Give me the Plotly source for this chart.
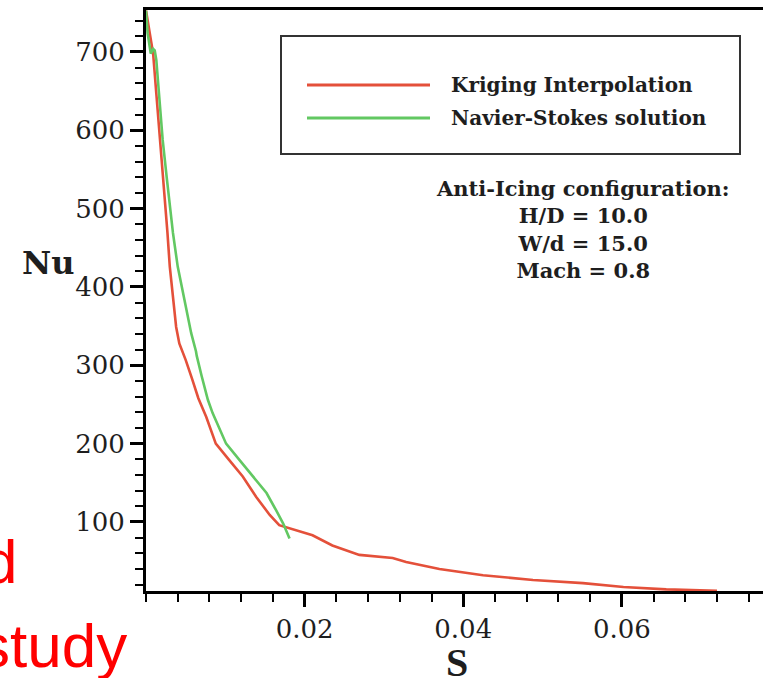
import plotly.graph_objects as go

# ---- data ----
kriging_s = [0, 0.0004, 0.0009, 0.0013, 0.0017, 0.0021, 0.0024, 0.0027, 0.0030, 0.0034,
             0.0038, 0.0042, 0.0050, 0.0058, 0.0063, 0.0066, 0.0076, 0.0088, 0.0105, 0.0122,
             0.0139, 0.0156, 0.0168, 0.0181, 0.0210, 0.0235, 0.0269, 0.0311, 0.0328, 0.0370,
             0.0425, 0.0488, 0.0551, 0.0602, 0.0656, 0.0720]
kriging_nu = [753, 728, 698, 647, 596, 554, 511, 470, 426, 383,
              349, 328, 307, 283, 266, 258, 234, 200, 179, 158,
              132, 109, 96, 92, 83, 70, 58, 54, 49, 40,
              32, 26, 22, 17, 14, 12]

ns_s = [0, 0.0002, 0.0006, 0.0009, 0.0011, 0.0013, 0.0017, 0.0021, 0.0026, 0.0029,
        0.0034, 0.0040, 0.0049, 0.0057, 0.0063, 0.0064, 0.0070, 0.0078, 0.0084, 0.0101,
        0.0118, 0.0135, 0.0152, 0.0164, 0.0173, 0.0181]
ns_nu = [753, 724, 698, 704, 702, 690, 639, 588, 541, 511,
         469, 426, 383, 341, 318, 312, 287, 256, 239, 200,
         179, 158, 137, 115, 98, 79]

series_names = ["Kriging Interpolation", "Navier-Stokes solution"]
x_tick_vals = [0.02, 0.04, 0.06]
x_tick_labels = ["0.02", "0.04", "0.06"]
y_tick_vals = [100, 200, 300, 400, 500, 600, 700]
y_tick_labels = ["100", "200", "300", "400", "500", "600", "700"]
config_lines = ["Anti-Icing configuration:", "H/D = 10.0", "W/d = 15.0", "Mach = 0.8"]

RED = "#e4503a"
GREEN = "#62c862"

W, H = 763, 678
ML, MR, MT, MB = 146, 0, 10, 87
PW, PH = W - ML - MR, H - MT - MB


def px2x(px):
    return (px - ML) / PW


def px2y(py):
    return (H - MB - py) / PH


fig = go.Figure()
fig.add_trace(go.Scatter(x=kriging_s, y=kriging_nu, mode="lines", name=series_names[0],
                         line=dict(color=RED, width=2.6)))
fig.add_trace(go.Scatter(x=ns_s, y=ns_nu, mode="lines", name=series_names[1],
                         line=dict(color=GREEN, width=2.6)))

tickfont = dict(family="DejaVu Serif", size=26, color="#1e1e1e")

fig.update_layout(
    width=W, height=H,
    margin=dict(l=ML, r=MR, t=MT, b=MB, autoexpand=False),
    paper_bgcolor="white", plot_bgcolor="white",
    showlegend=False,
    xaxis=dict(
        range=[0, 0.0778], tickvals=x_tick_vals, ticktext=x_tick_labels,
        ticks="outside", ticklen=13, tickwidth=2.5, tickcolor="black",
        showline=True, linewidth=3, linecolor="black", mirror=True,
        showgrid=False, zeroline=False, tickfont=tickfont, automargin=False,
        minor=dict(dtick=0.004, tick0=0, ticks="outside", ticklen=8, tickwidth=2,
                   tickcolor="black", showgrid=False),
    ),
    yaxis=dict(
        range=[11.9, 753.6], tickvals=y_tick_vals, ticktext=y_tick_labels,
        ticks="outside", ticklen=13, tickwidth=2.5, tickcolor="black",
        showline=True, linewidth=3, linecolor="black", mirror=False,
        showgrid=False, zeroline=False, tickfont=tickfont, automargin=False,
        minor=dict(dtick=20, tick0=0, ticks="outside", ticklen=8, tickwidth=2,
                   tickcolor="black", showgrid=False),
    ),
)

# manual legend box
fig.add_shape(type="rect", xref="paper", yref="paper",
              x0=px2x(281), x1=px2x(740), y0=px2y(154), y1=px2y(36),
              line=dict(color="#333333", width=2), fillcolor="rgba(0,0,0,0)")
for i, (name, col) in enumerate(zip(series_names, [RED, GREEN])):
    yy = 85 + i * 33
    fig.add_shape(type="line", xref="paper", yref="paper",
                  x0=px2x(307), x1=px2x(430), y0=px2y(yy), y1=px2y(yy),
                  line=dict(color=col, width=3))
    fig.add_annotation(xref="paper", yref="paper", x=px2x(449), y=px2y(yy),
                       text="<b>%s</b>" % name, showarrow=False,
                       xanchor="left", yanchor="middle",
                       font=dict(family="DejaVu Serif", size=20, color="#1e1e1e"))

# configuration text
fig.add_annotation(xref="paper", yref="paper", x=px2x(582), y=px2y(229),
                   text="<b>" + "<br>".join(config_lines) + "</b>", showarrow=False,
                   xanchor="center", yanchor="middle", align="center",
                   font=dict(family="DejaVu Serif", size=21, color="#1e1e1e"))

# axis labels
fig.add_annotation(xref="paper", yref="paper", x=px2x(48), y=px2y(263),
                   text="<b>Nu</b>", showarrow=False, xanchor="center", yanchor="middle",
                   font=dict(family="DejaVu Serif", size=32, color="#1e1e1e"))
fig.add_annotation(xref="paper", yref="paper", x=px2x(457), y=px2y(662),
                   text="<b>S</b>", showarrow=False, xanchor="center", yanchor="middle",
                   font=dict(family="Liberation Serif", size=40, color="#1e1e1e"))

# cropped red slide text at lower left
fig.add_annotation(xref="paper", yref="paper", x=px2x(19), y=px2y(561),
                   text="d", showarrow=False, xanchor="right", yanchor="middle",
                   font=dict(family="Liberation Sans", size=62, color="#ff0000"))
fig.add_annotation(xref="paper", yref="paper", x=px2x(129), y=px2y(645),
                   text="study", showarrow=False, xanchor="right", yanchor="middle",
                   font=dict(family="Liberation Sans", size=62, color="#ff0000"))

fig.write_html("out.html",
               config={"displayModeBar": False},
               post_script="document.body.style.margin='0';"
                           "document.body.style.overflow='hidden';")
